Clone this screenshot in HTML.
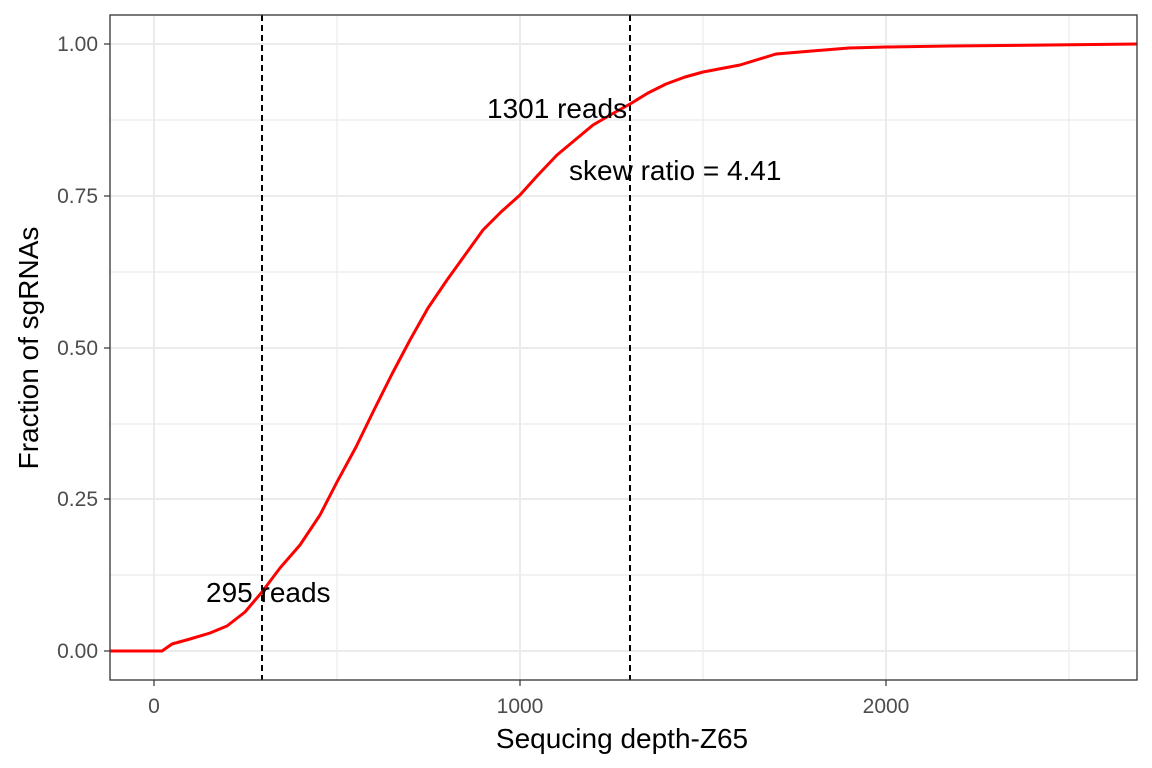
<!DOCTYPE html>
<html><head><style>body{margin:0;background:#fff}svg{display:block}</style></head><body>
<svg width="1152" height="768" xmlns="http://www.w3.org/2000/svg" font-family="Liberation Sans, Arial, sans-serif">
<rect width="1152" height="768" fill="#fff"/>
<g stroke="#ebebeb" stroke-width="1.2">
<line x1="110" x2="1137" y1="120" y2="120"/><line x1="110" x2="1137" y1="272" y2="272"/>
<line x1="110" x2="1137" y1="424" y2="424"/><line x1="110" x2="1137" y1="575" y2="575"/>
<line x1="337" x2="337" y1="15" y2="680"/><line x1="703" x2="703" y1="15" y2="680"/><line x1="1069" x2="1069" y1="15" y2="680"/>
</g>
<g stroke="#ebebeb" stroke-width="2">
<line x1="110" x2="1137" y1="44" y2="44"/><line x1="110" x2="1137" y1="196" y2="196"/>
<line x1="110" x2="1137" y1="348" y2="348"/><line x1="110" x2="1137" y1="499" y2="499"/>
<line x1="110" x2="1137" y1="651" y2="651"/>
<line x1="154" x2="154" y1="15" y2="680"/><line x1="520" x2="520" y1="15" y2="680"/><line x1="886" x2="886" y1="15" y2="680"/>
</g>
<g stroke="#000" stroke-width="2" stroke-dasharray="6,4">
<line x1="262" x2="262" y1="15" y2="680"/><line x1="630" x2="630" y1="15" y2="680"/>
</g>
<polyline fill="none" stroke="#f00" stroke-width="3" stroke-linejoin="round" points="110,651 162,651 172,644 190,639 210,633 227,626 245,612 262,592 280,568 300,545 320,515 337,482 356,447 374,410 392,374 410,340 428,308 447,280 465,255 483,230 501,212 520,195 538,175 557,155 575,140 593,125 612,114 630,104 648,93 666,84 685,77 703,72 740,65 776,54 812,51 849,48 886,47 950,46 1050,45 1137,44"/>
<rect x="110" y="15" width="1027" height="665" fill="none" stroke="#333" stroke-width="1.3"/>
<g font-size="28" fill="#000">
<text x="487" y="118">1301 reads</text>
<text x="569" y="180">skew ratio = 4.41</text>
<text x="206" y="602">295 reads</text>
</g>
<g font-size="21" fill="#4d4d4d" text-anchor="end">
<text x="98" y="51">1.00</text><text x="98" y="203">0.75</text><text x="98" y="355">0.50</text>
<text x="98" y="506">0.25</text><text x="98" y="658">0.00</text>
</g>
<g stroke="#333" stroke-width="1.2">
<line x1="104" x2="110" y1="44" y2="44"/><line x1="104" x2="110" y1="196" y2="196"/><line x1="104" x2="110" y1="348" y2="348"/>
<line x1="104" x2="110" y1="499" y2="499"/><line x1="104" x2="110" y1="651" y2="651"/>
<line x1="154" x2="154" y1="680" y2="686"/><line x1="520" x2="520" y1="680" y2="686"/><line x1="886" x2="886" y1="680" y2="686"/>
</g>
<g font-size="21" fill="#4d4d4d" text-anchor="middle">
<text x="154" y="713">0</text><text x="520" y="713">1000</text><text x="886" y="713">2000</text>
</g>
<text x="622" y="748" font-size="28" text-anchor="middle">Sequcing depth-Z65</text>
<text transform="translate(38,348) rotate(-90)" font-size="28" text-anchor="middle">Fraction of sgRNAs</text>
</svg>
</body></html>
